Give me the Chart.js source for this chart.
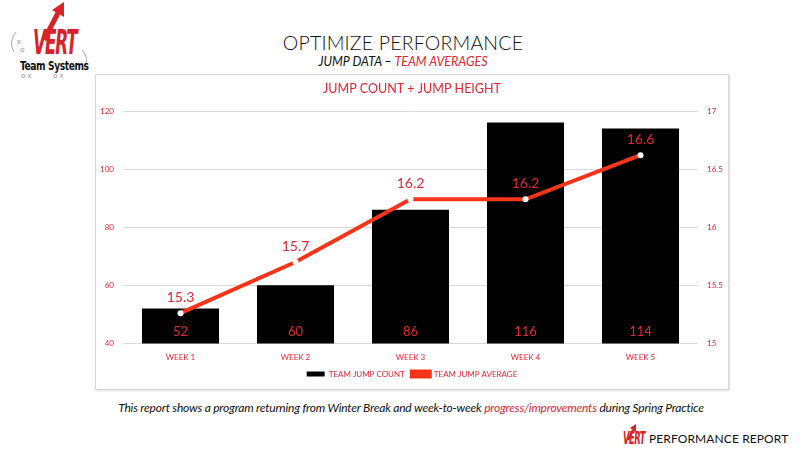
<!DOCTYPE html>
<html>
<head>
<meta charset="utf-8">
<script src="https://cdn.jsdelivr.net/npm/chart.js@4.4.0/dist/chart.umd.min.js"></script>
<style>
  html, body { margin: 0; padding: 0; background: #fff; }
  body { width: 800px; height: 457px; position: relative; overflow: hidden; font-family: Lato, "Open Sans", sans-serif; }
  .abs { position: absolute; white-space: nowrap; }
  #title { left: 0; width: 806px; top: 31px; text-align: center; font-size: 19.5px; font-weight: 300; color: #111; letter-spacing: 0.2px; }
  #sub { left: 0; width: 806px; top: 54px; text-align: center; font-size: 12.5px; font-style: italic; color: #111; }
  #sub span { color: #e3262f; }
  #box { left: 95px; top: 74px; width: 632px; height: 314px; border: 1px solid #d6d6d6; box-shadow: 1px 1px 2px rgba(0,0,0,0.12); }
  #foot { left: 0; width: 822px; top: 400px; text-align: center; font-size: 12px; font-style: italic; color: #111; letter-spacing: -0.2px; }
  #foot span { color: #e3262f; }
  #report { left: 649px; top: 431px; font-size: 12px; color: #111; letter-spacing: 0.1px; }
  .vert { font-family: "DejaVu Sans Condensed", "Liberation Sans", sans-serif; font-weight: bold; font-style: italic; color: #d8232a; transform-origin: left top; }
  #logoV { left: 33px; top: 22px; font-size: 34px; transform: scale(0.55, 1); letter-spacing: -2px; }
  #logoT { left: 20px; top: 58px; font-size: 13px; font-family: "DejaVu Sans Condensed", sans-serif; font-weight: bold; color: #111; transform-origin: left top; transform: scale(0.78, 1); letter-spacing: -0.5px; }
  #miniV { left: 623px; top: 428px; font-size: 17px; transform: scale(0.55, 1); letter-spacing: -1px; }
  .mark { font-size: 8px; color: #999; }
</style>
</head>
<body>
<svg class="abs" style="left:0;top:0" width="800" height="457">
  <path d="M44 40 L58 13" stroke="#d8232a" stroke-width="5" fill="none"/>
  <path d="M52 10 L64 2 L64 17 Z" fill="#d8232a"/>
  <path d="M16 32 Q8 42 14 52" stroke="#aaa" stroke-width="1" fill="none"/>
  <path d="M82 50 Q90 58 84 68" stroke="#aaa" stroke-width="1" fill="none"/>
  <path d="M628 440 L633 430" stroke="#d8232a" stroke-width="2.5" fill="none"/>
  <path d="M630 428 L636 424 L636 432 Z" fill="#d8232a"/>
</svg>
<div class="abs mark" style="left:17px;top:36px">x</div>
<div class="abs mark" style="left:20px;top:44px">o</div>
<div class="abs mark" style="left:21px;top:70px">o x</div>
<div class="abs mark" style="left:53px;top:70px">o x</div>
<div class="abs vert" id="logoV">VERT</div>
<div class="abs" id="logoT">Team Systems</div>

<div class="abs" id="title">OPTIMIZE PERFORMANCE</div>
<div class="abs" id="sub">JUMP DATA – <span>TEAM AVERAGES</span></div>
<div class="abs" id="box"></div>
<div class="abs" style="left:96px;top:75px;width:632px;height:313px">
  <canvas id="myChart" width="632" height="313"></canvas>
</div>
<div class="abs" id="foot">This report shows a program returning from Winter Break and week-to-week <span>progress/improvements</span> during Spring Practice</div>
<div class="abs vert" id="miniV">VERT</div>
<div class="abs" id="report">PERFORMANCE REPORT</div>

<script>
var weeks = ['WEEK 1', 'WEEK 2', 'WEEK 3', 'WEEK 4', 'WEEK 5'];
var jumpCount = [52, 60, 86, 116, 114];
var jumpAverage = [15.26, 15.7, 16.24, 16.24, 16.62];
var countTicks = [40, 60, 80, 100, 120];
var heightTicks = [15, 15.5, 16, 16.5, 17];

var red = '#e3262f';
var lineRed = '#f5341a';

// value labels: bar values near the base, line values above the points
var valueLabels = {
  id: 'valueLabels',
  afterDatasetsDraw: function (chart) {
    var c = chart.ctx;
    var bottom = chart.chartArea.bottom;
    c.save();
    c.fillStyle = red;
    c.textAlign = 'center';
    c.textBaseline = 'middle';
    c.font = '13px Lato';
    chart.getDatasetMeta(0).data.forEach(function (bar, i) {
      c.fillText(String(jumpCount[i]), bar.x, bottom - 12);
    });
    c.font = '14px Lato';
    chart.getDatasetMeta(1).data.forEach(function (pt, i) {
      c.fillText(jumpAverage[i].toFixed(1), pt.x, pt.y - 16);
    });
    c.restore();
  }
};

Chart.defaults.font.family = 'Lato';
Chart.defaults.font.size = 8;
Chart.defaults.color = red;

var ctx = document.getElementById('myChart');
var myChart = new Chart(ctx, {
  type: 'bar',
  data: {
    labels: weeks,
    datasets: [{
      label: 'TEAM JUMP COUNT',
      data: jumpCount,
      yAxisID: 'y',
      backgroundColor: '#000',
      categoryPercentage: 0.67,
      barPercentage: 1,
      order: 1
    }, {
      type: 'line',
      label: 'TEAM JUMP AVERAGE',
      data: jumpAverage,
      yAxisID: 'y1',
      borderColor: lineRed,
      backgroundColor: lineRed,
      borderWidth: 4,
      pointRadius: 3,
      pointBackgroundColor: '#fff',
      pointBorderWidth: 0,
      tension: 0,
      order: 0
    }]
  },
  options: {
    responsive: false,
    animation: false,
    layout: { padding: { left: 0, right: 0, top: 0, bottom: 0 } },
    plugins: {
      title: {
        display: true,
        text: 'JUMP COUNT + JUMP HEIGHT',
        color: red,
        font: { size: 12.5, family: 'Lato', weight: 'normal' },
        padding: { top: 6, bottom: 15 }
      },
      legend: {
        position: 'bottom',
        labels: {
          boxWidth: 18, boxHeight: 5, padding: 7, font: { size: 8 },
          sort: function (a, b) { return a.datasetIndex - b.datasetIndex; }
        }
      },
      tooltip: { enabled: false }
    },
    scales: {
      x: {
        grid: { display: false },
        border: { display: false },
        ticks: { padding: 1 }
      },
      y: {
        position: 'left',
        min: 40, max: 120,
        afterBuildTicks: function (s) { s.ticks = countTicks.map(function (v) { return { value: v }; }); },
        afterFit: function (s) { s.width = 27; },
        grid: { color: '#d9d9d9', drawTicks: false },
        border: { display: false },
        ticks: { padding: 9, callback: function (v) { return String(v); } }
      },
      y1: {
        position: 'right',
        min: 15, max: 17,
        afterBuildTicks: function (s) { s.ticks = heightTicks.map(function (v) { return { value: v }; }); },
        afterFit: function (s) { s.width = 30; },
        grid: { display: false, drawTicks: false },
        border: { display: false },
        ticks: { padding: 9, callback: function (v) { return String(v); } }
      }
    }
  },
  plugins: [valueLabels]
});
</script>
</body>
</html>
